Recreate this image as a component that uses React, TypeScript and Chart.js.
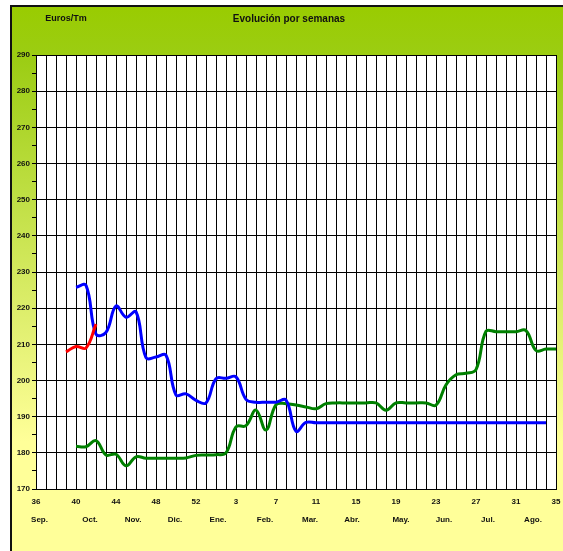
import React, { useEffect, useRef } from 'react';
import { Chart, registerables } from 'chart.js';
Chart.register(...registerables);

const weeks = [36, 37, 38, 39, 40, 41, 42, 43, 44, 45, 46, 47, 48, 49, 50, 51, 52, 53, 1, 2, 3, 4, 5, 6, 7, 8, 9, 10, 11, 12, 13, 14, 15, 16, 17, 18, 19, 20, 21, 22, 23, 24, 25, 26, 27, 28, 29, 30, 31, 32, 33, 34, 35];

const monthLabels = ['Sep.', 'Oct.', 'Nov.', 'Dic.', 'Ene.', 'Feb.', 'Mar.', 'Abr.', 'May.', 'Jun.', 'Jul.', 'Ago.'];
const monthCenters = [0.35, 5.4, 9.7, 13.9, 18.2, 22.9, 27.4, 31.6, 36.5, 40.8, 45.2, 49.7];

const N = null;
const redValues = [N, N, N, 207.9, 209.4, 209, 215.6, N, N, N, N, N, N, N, N, N, N, N, N, N, N, N, N, N, N, N, N, N, N, N, N, N, N, N, N, N, N, N, N, N, N, N, N, N, N, N, N, N, N, N, N, N, N];

const blueValues = [N, N, N, N, 225.8, 226.3, 212.8, 213.3, 220.6, 217.5, 219, 206.3, 206.5, 207, 196, 196.3, 194.5, 193.8, 200.5, 200.6, 201, 194.8, 194, 194, 194, 194.6, 186, 188.4,
  188.3, 188.3, 188.3, 188.3, 188.3, 188.3, 188.3, 188.3, 188.3, 188.3, 188.3, 188.3, 188.3, 188.3, 188.3, 188.3, 188.3, 188.3, 188.3, 188.3, 188.3, 188.3, 188.3, 188.3, N];

const greenValues = [N, N, N, N, 181.8, 181.7, 183.4, 179.4, 179.6, 176.4, 178.9, 178.5, 178.5, 178.5, 178.5, 178.6, 179.3, 179.4, 179.5, 180, 187.2, 187.5, 191.8, 186.3, 193.3, 193.6, 193.2, 192.7, 192.2, 193.6, 193.8, 193.8, 193.8, 193.8, 193.8, 191.8, 193.8, 193.8, 193.8, 193.8, 193.2, 198.8, 201.6, 202, 203, 213.6, 213.5, 213.5, 213.5, 213.8, 208.3, 208.7, 208.7];

const FONT = '"Liberation Sans", Arial, sans-serif';

const bgPlugin = {
  id: 'bgPlugin',
  beforeDraw(chart: any) {
    const { ctx, chartArea } = chart;
    ctx.save();
    ctx.fillStyle = '#ffffff';
    ctx.fillRect(0, 0, chart.width, chart.height);
    const g = ctx.createLinearGradient(0, 5, 0, 551);
    g.addColorStop(0, '#99cc00');
    g.addColorStop(0.1, '#9ccd14');
    g.addColorStop(0.8, '#ffff99');
    g.addColorStop(1, '#ffff99');
    ctx.fillStyle = g;
    ctx.fillRect(10, 5, chart.width - 10, chart.height - 5);
    ctx.strokeStyle = '#111';
    ctx.lineWidth = 2;
    ctx.beginPath();
    ctx.moveTo(11, chart.height);
    ctx.lineTo(11, 6);
    ctx.lineTo(chart.width, 6);
    ctx.stroke();
    ctx.fillStyle = '#ffffff';
    ctx.fillRect(chartArea.left, chartArea.top, chartArea.right - chartArea.left, chartArea.bottom - chartArea.top);
    ctx.fillStyle = '#111';
    ctx.textBaseline = 'middle';
    ctx.textAlign = 'center';
    ctx.font = `bold 10px ${FONT}`;
    ctx.fillText('Evolución por semanas', 289, 19);
    ctx.font = `bold 9px ${FONT}`;
    ctx.fillText('Euros/Tm', 66, 19);
    ctx.restore();
  },
};

export default function App() {
  const ref = useRef<HTMLCanvasElement>(null);
  useEffect(() => {
    if (!ref.current) return;
    const ds = (label: string, data: any[], color: string) => ({
      label,
      data,
      borderColor: color,
      backgroundColor: color,
      borderWidth: 3,
      pointRadius: 0,
      tension: 0.4,
      fill: false,
    });
    const noPad = (s: any, h: number) => {
      s.height = h;
      s.paddingLeft = 0;
      s.paddingRight = 0;
    };
    const chart = new Chart(ref.current, {
      type: 'line',
      data: {
        labels: weeks.map(String),
        datasets: [
          ds('red', redValues, '#ff0000'),
          ds('blue', blueValues, '#0000ff'),
          ds('green', greenValues, '#008000'),
        ],
      },
      options: {
        responsive: false,
        animation: false,
        layout: { padding: { top: 55, right: 7, left: 0, bottom: 0 } },
        plugins: { legend: { display: false }, tooltip: { enabled: false }, title: { display: false } },
        scales: {
          x: {
            type: 'category',
            offset: false,
            weight: 0,
            grid: { color: '#000', lineWidth: 1, drawTicks: false, offset: false },
            border: { display: true, color: '#000', width: 1 },
            ticks: {
              autoSkip: false,
              maxRotation: 0,
              padding: 8,
              color: '#111',
              font: { family: FONT, size: 8, weight: 'bold' },
              callback: (_v: any, i: number) => (i % 4 === 0 ? String(weeks[i]) : ''),
            },
            afterFit: (s: any) => noPad(s, 22),
          },
          x2: {
            type: 'linear',
            position: 'bottom',
            weight: 1,
            min: 0,
            max: 52,
            grid: { display: false, drawTicks: false },
            border: { display: false },
            afterBuildTicks: (s: any) => { s.ticks = monthCenters.map((v) => ({ value: v })); },
            ticks: {
              autoSkip: false,
              maxRotation: 0,
              padding: 4,
              color: '#111',
              font: { family: FONT, size: 8, weight: 'bold' },
              callback: (_v: any, i: number) => monthLabels[i],
            },
            afterFit: (s: any) => noPad(s, 40),
          },
          y: {
            min: 170,
            max: 290,
            grid: {
              color: (c: any) => (c.tick && c.tick.value % 10 === 0 ? '#000' : 'rgba(0,0,0,0)'),
              tickColor: '#000',
              tickLength: 4,
              lineWidth: 1,
            },
            border: { display: true, color: '#000', width: 1 },
            ticks: {
              stepSize: 5,
              autoSkip: false,
              padding: 2,
              color: '#111',
              font: { family: FONT, size: 8, weight: 'bold' },
              callback: (v: any) => (Number(v) % 10 === 0 ? String(v) : ''),
            },
            afterFit: (s: any) => { s.width = 36; s.paddingTop = 0; s.paddingBottom = 0; },
          },
        },
      },
      plugins: [bgPlugin],
    });
    return () => chart.destroy();
  }, []);
  return (
    <canvas
      ref={ref}
      width={563}
      height={551}
      style={{ position: 'fixed', left: 0, top: 0, display: 'block' }}
    />
  );
}
